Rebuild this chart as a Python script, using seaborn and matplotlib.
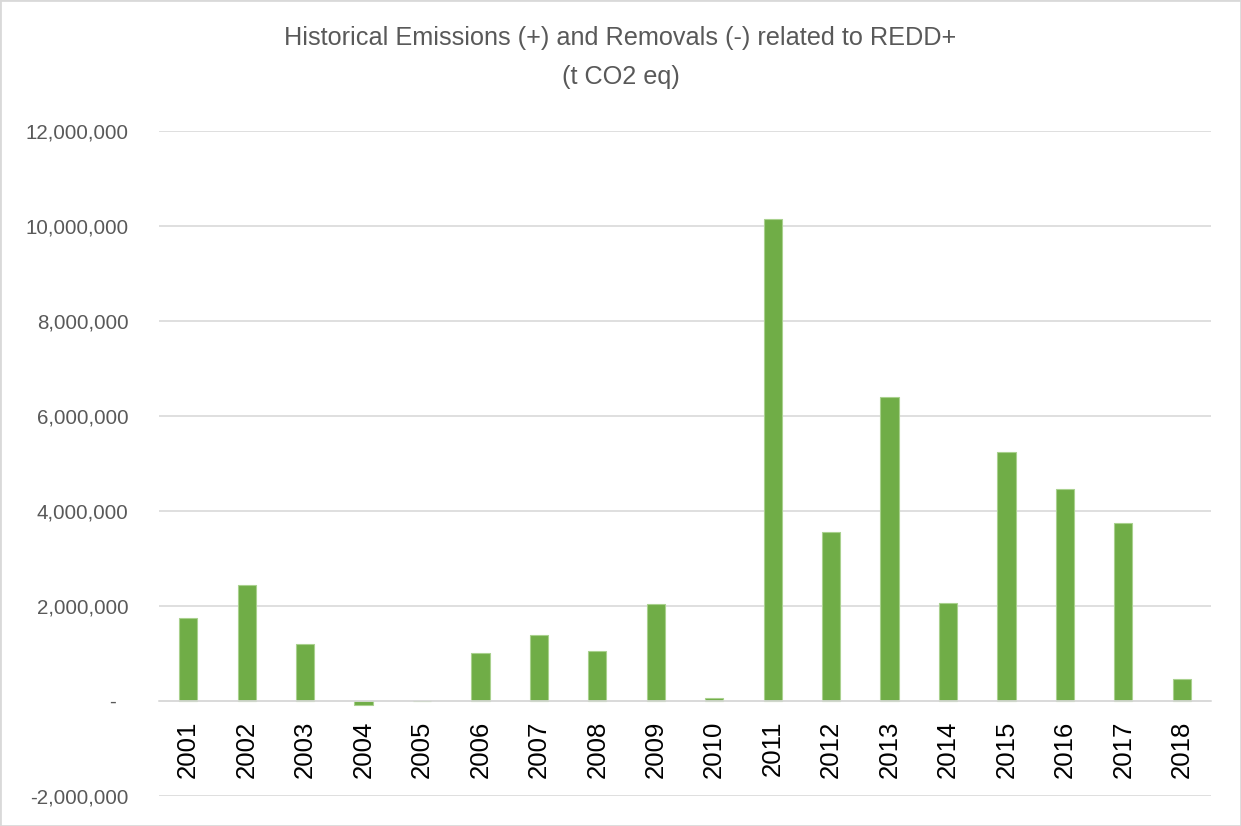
import matplotlib
matplotlib.use("Agg")
import matplotlib.pyplot as plt
import matplotlib.patches as mpatches
from matplotlib.ticker import FuncFormatter
import seaborn as sns
import pandas as pd

# Annual net emissions (+) / removals (-), t CO2 eq
years = ["2001", "2002", "2003", "2004", "2005", "2006", "2007", "2008", "2009",
         "2010", "2011", "2012", "2013", "2014", "2015", "2016", "2017", "2018"]
emissions = [1756000, 2436000, 1190000, -80000, 0, 1020000, 1400000, 1050000, 2050000,
             70000, 10140000, 3550000, 6400000, 2060000, 5240000, 4460000, 3750000, 460000]

y_ticks = [-2000000, 0, 2000000, 4000000, 6000000, 8000000, 10000000, 12000000]

title_line1 = "Historical Emissions (+) and Removals (-) related to REDD+"
title_line2 = "(t CO2 eq)"

df = pd.DataFrame({"year": years, "value": emissions})

sns.set_style("white")
plt.rcParams["font.family"] = ["Liberation Sans", "DejaVu Sans"]

W, H = 1241, 826
fig = plt.figure(figsize=(W / 100, H / 100), dpi=100)
ax = fig.add_axes([159 / W, 1 - 796 / H, (1211 - 159) / W, (796 - 131) / H])

sns.barplot(data=df, x="year", y="value", color="#70AD47", width=0.31,
            saturation=1, edgecolor="#A9D18E", linewidth=0.8, ax=ax)

ax.set_ylim(-2000000, 12000000)
ax.set_yticks(y_ticks)
ax.yaxis.set_major_formatter(FuncFormatter(
    lambda v, _: "-  " if abs(v) < 1 else f"{v:,.0f}"))
ax.set_xlabel("")
ax.set_ylabel("")

ax.set_axisbelow(True)
ax.grid(axis="y", color="#D9D9D9", linewidth=1.2)
ax.grid(axis="x", visible=False)

for side in ("top", "right", "left"):
    ax.spines[side].set_visible(False)
ax.spines["bottom"].set_position(("data", 0))
ax.spines["bottom"].set_color("#D9D9D9")
ax.spines["bottom"].set_linewidth(1.2)

ax.tick_params(axis="y", length=0, pad=22, labelsize=14.8, labelcolor="#595959")
ax.tick_params(axis="x", length=0, pad=14, labelsize=18.5, labelcolor="#000000")
for lbl in ax.get_xticklabels():
    lbl.set_rotation(90)

fig.text(0.5, 1 - 38 / H, title_line1, ha="center", va="center",
         fontsize=18.2, color="#595959")
fig.text(0.5, 1 - 77 / H, title_line2, ha="center", va="center",
         fontsize=18.2, color="#595959")

fig.patches.append(mpatches.Rectangle((0, 0), 1, 1, transform=fig.transFigure,
                                      fill=False, edgecolor="#D9D9D9", linewidth=2))

fig.savefig("out.png", dpi=100, facecolor="white")
